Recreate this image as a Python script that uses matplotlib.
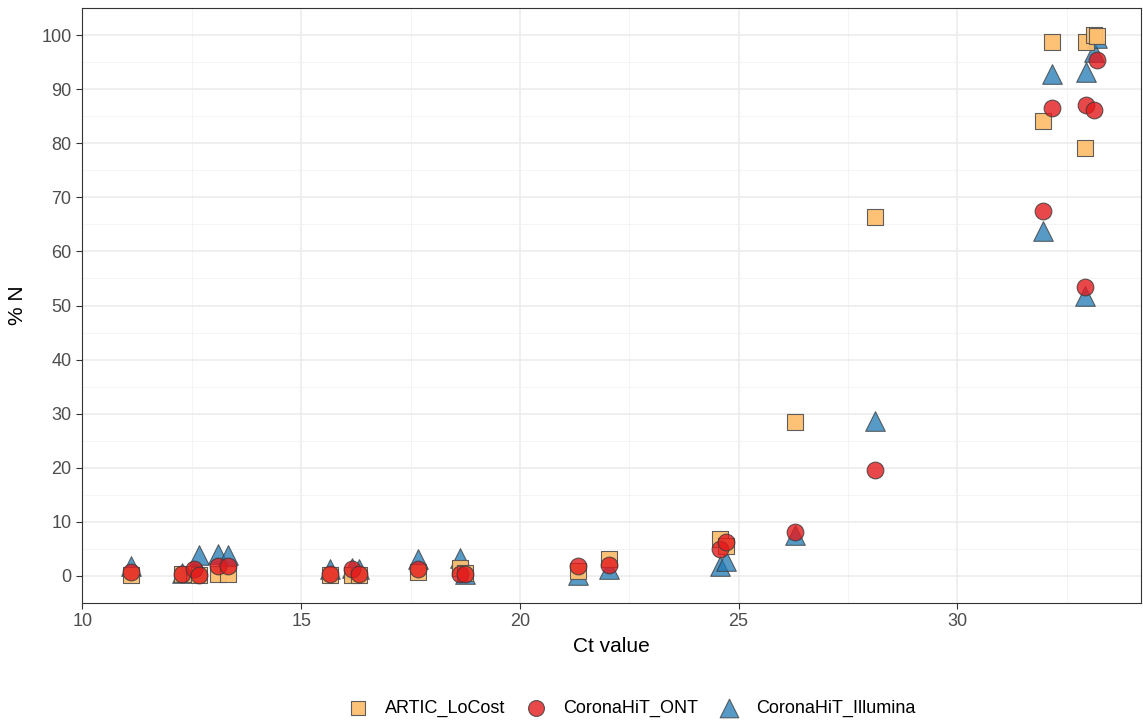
import numpy as np
import matplotlib
matplotlib.use("Agg")
import matplotlib.pyplot as plt

plt.rcParams['font.family'] = ['Liberation Sans', 'DejaVu Sans']

# one entry per sample
ct = [11.10, 12.28, 12.55, 12.66, 13.10, 13.33, 15.66, 16.16, 16.33, 17.68,
      18.63, 18.75, 21.33, 22.03, 24.57, 24.72, 26.29, 28.12, 31.95, 32.17,
      32.93, 32.95, 33.13, 33.20]
artic = [0.1, 0.3, 0.3, 0.2, 0.3, 0.3, 0.2, 0.2, 0.2, 0.8,
         1.4, 0.5, 1.0, 3.1, 6.8, 5.6, 28.5, 66.4, 84.2, 98.8,
         79.2, 98.8, 100.0, 99.9]
ont = [0.8, 0.4, 1.3, 0.1, 1.9, 1.9, 0.4, 1.2, 0.4, 1.2,
       0.4, 0.3, 1.9, 2.0, 5.0, 6.2, 8.1, 19.6, 67.4, 86.6,
       53.4, 87.1, 86.2, 95.4]
illumina = [1.9, 0.6, 1.0, 3.8, 4.1, 3.8, 1.3, 1.5, 1.2, 3.1,
            3.4, 0.3, 0.2, 1.3, 1.9, 2.8, 7.5, 28.6, 63.8, 92.8,
            51.8, 93.1, 96.8, 99.4]

fig = plt.figure(figsize=(11.43, 7.23), dpi=100)
ax = fig.add_axes([82/1143, 1-603/723, (1141-82)/1143, (603-8)/723])

edge = '#3a3a3a'
ax.scatter(ct, illumina, marker='^', s=200, color='#1F78B4', alpha=0.75,
           edgecolors=edge, linewidths=0.8, label='CoronaHiT_Illumina', zorder=3)
ax.scatter(ct, artic, marker='s', s=125, color='#FDBF6F', alpha=0.95,
           edgecolors='#555555', linewidths=0.8, label='ARTIC_LoCost', zorder=4)
ax.scatter(ct, ont, marker='o', s=145, color='#E31A1C', alpha=0.8,
           edgecolors=edge, linewidths=0.8, label='CoronaHiT_ONT', zorder=5)

ax.set_xlim(9.99, 34.2)
ax.set_ylim(-5, 105)
ax.set_xticks([10, 15, 20, 25, 30])
ax.set_yticks(np.arange(0, 101, 10))
ax.set_xticks(np.arange(12.5, 34, 5), minor=True)
ax.set_yticks(np.arange(-5, 106, 10), minor=True)
ax.grid(which='major', color='#EBEBEB', linewidth=1.1, zorder=0)
ax.grid(which='minor', color='#F2F2F2', linewidth=0.6, zorder=0)
ax.set_axisbelow(True)
ax.tick_params(which='minor', length=0)
ax.tick_params(which='major', length=4, color='#333333', labelsize=13,
               labelcolor='#4D4D4D')
for sp in ax.spines.values():
    sp.set_color('#333333')
    sp.set_linewidth(0.8)

ax.set_xlabel('Ct value', fontsize=15, labelpad=5)
ax.set_ylabel('% N', fontsize=15, labelpad=10)

handles, labels = ax.get_legend_handles_labels()
order = [1, 2, 0]
fig.legend([handles[i] for i in order], [labels[i] for i in order],
           loc='center', bbox_to_anchor=(628/1143, 1-708/723), ncol=3,
           frameon=False, fontsize=13, handletextpad=0.5, columnspacing=0.7,
           markerscale=0.95)

fig.savefig('out.png', dpi=100)
